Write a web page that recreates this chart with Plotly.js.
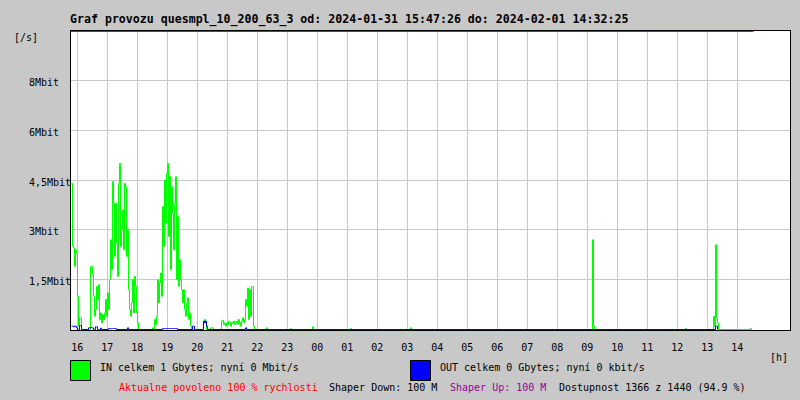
<!DOCTYPE html>
<html><head><meta charset="utf-8">
<script src="https://cdn.plot.ly/plotly-3.0.1.min.js"></script>
<style>html,body{margin:0;padding:0;background:#c8c8c8;}</style>
</head><body><div id="chart" style="width:800px;height:400px;"></div>
<script>
const titleText = 'Graf provozu quesmpl_10_200_63_3 od: 2024-01-31 15:47:26 do: 2024-02-01 14:32:25';
const rangeStart = '2024-01-31 15:47:26';
const rangeEnd = '2024-02-01 15:45:26';
const dataEnd = '2024-02-01 14:32:25';
const sampleMinutes = 2;

const hourLabels = ['16','17','18','19','20','21','22','23','00','01','02','03','04','05','06','07','08','09','10','11','12','13','14'];
const yTickValues = [1.5, 3, 4.5, 6, 7.5];
const yTickLabels = ['1,5Mbit', '3Mbit', '4,5Mbit', '6Mbit', '8Mbit'];

// IN traffic (Mbit/s), segments of 2-minute samples
const inSegStarts = [
  '2024-01-31 15:48:26', '2024-01-31 18:26:26', '2024-01-31 20:12:26',
  '2024-01-31 22:18:26', '2024-01-31 23:06:26', '2024-01-31 23:50:26',
  '2024-02-01 01:06:26', '2024-02-01 03:06:26', '2024-02-01 09:10:26',
  '2024-02-01 12:16:26', '2024-02-01 13:12:26', '2024-02-01 14:26:26'
];
const inSeg1 = [4.4, 2.5, 2.45, 1.9, 2.4, 2.3, 1.0, 0.1, 0.35, 0.35,
  0, 0, 0, 0, 0, 0, 0, 0, 0,
  1.9, 1.9, 1.65, 1.0, 0.4, 0.6, 1.3, 0.9, 1.35, 0.3,
  0.5, 0.2, 0.45, 0.3, 0.5, 0.9, 0.4, 1.1, 0.6, 1.5,
  2.7, 1.8, 4.45, 3.8, 2.2, 3.8, 2.6, 1.6, 4.4, 5.0,
  2.5, 3.0, 3.6, 2.4, 4.4, 4.3, 2.2, 3.0, 1.2, 0.6,
  0.4, 0.8, 1.5, 0.5, 1.6, 1.3, 0.5, 0.2, 0];
const inSeg2 = [0, 0, 0.05, 0, 0.3, 0.15, 0.4, 1.5, 0.8, 1.4,
  1.7, 1.0, 3.7, 2.5, 4.5, 3.2, 4.7, 5.0, 2.8, 4.6,
  1.8, 4.3, 3.5, 2.4, 3.8, 4.6, 1.5, 3.4, 1.3, 2.1,
  1.5, 1.2, 0.8, 1.2, 0.6, 0.4, 0.8, 0.95, 0.3, 0.5,
  0.1, 0];
const inSeg3 = [0.25, 0.3, 0.25, 0, 0, 0, 0, 0.05, 0.05, 0.05,
  0, 0, 0, 0, 0, 0, 0, 0, 0.25, 0.28,
  0.15, 0.2, 0.1, 0.2, 0.15, 0.25, 0.2, 0.1, 0.22, 0.18,
  0.25, 0.15, 0.2, 0.25, 0.15, 0.3, 0.2, 0.1, 0.25, 0.35,
  0.2, 0.3, 0.9, 0.7, 1.25, 0.3, 1.2, 0.4, 1.3, 1.3,
  0.1, 0];
const inSegValues = [inSeg1, inSeg2, inSeg3,
  [0.05, 0], [0.03, 0], [0.08, 0], [0.03, 0], [0.05, 0],
  [2.7, 0.1, 0], [0.03, 0], [0.4, 0.1, 2.55, 0.35, 0.2, 0], [0.03, 0]];

// OUT traffic (Mbit/s)
const outSegStarts = [
  '2024-01-31 15:48:26', '2024-01-31 16:22:26', '2024-01-31 17:02:26',
  '2024-01-31 17:40:26', '2024-01-31 18:50:26', '2024-01-31 19:50:26',
  '2024-01-31 20:12:26', '2024-01-31 21:36:26', '2024-02-01 13:16:26'
];
const outSegValues = [
  [0.1, 0.1, 0.08, 0.1, 0.1, 0.05, 0, 0, 0.12, 0.12, 0],
  [0.05, 0.05, 0.06, 0.05, 0.05, 0, 0, 0.08, 0.08, 0, 0, 0, 0.04, 0],
  [0.03, 0.03, 0.03, 0.03, 0.03, 0.03, 0.03, 0.03, 0],
  [0.05, 0],
  [0.03, 0.03, 0.03, 0.03, 0.03, 0.03, 0.03, 0.03, 0.03, 0.03, 0.03, 0.03, 0.03, 0.03, 0.03, 0],
  [0.1, 0.1, 0],
  [0.25, 0.2, 0.25, 0.1, 0],
  [0.05, 0],
  [0.1, 0.1, 0]
];

// allowed speed (%)
const allowedTimes = [rangeStart, dataEnd];
const allowedPct = [100, 100];

const legendIn = 'IN celkem 1 Gbytes; nyní 0 Mbit/s';
const legendOut = 'OUT celkem 0 Gbytes; nyní 0 kbit/s';
const footerTexts = ['Aktualne povoleno 100 % rychlosti', 'Shaper Down: 100 M', 'Shaper Up: 100 M', 'Dostupnost 1366 z 1440 (94.9 %)'];
const footerColors = ['#ff0000', '#000000', '#990099', '#000000'];

function toMs(s) {
  const [d, t] = s.split(' ');
  const [Y, M, D] = d.split('-').map(Number);
  const [h, m, sec] = t.split(':').map(Number);
  return Date.UTC(Y, M - 1, D, h, m, sec || 0);
}
function expand(starts, segs) {
  const xs = [], ys = [];
  starts.forEach((s, k) => {
    const t0 = toMs(s);
    segs[k].forEach((v, i) => { xs.push(t0 + i * sampleMinutes * 60000); ys.push(v); });
  });
  return {xs, ys};
}
const inData = expand(inSegStarts, inSegValues);
const outData = expand(outSegStarts, outSegValues);
const tickVals = hourLabels.map(h => toMs((Number(h) >= 16 ? '2024-01-31 ' : '2024-02-01 ') + h + ':00:00'));

const L = 71, R = 10, T = 31, B = 70, W = 800 - L - R, H = 400 - T - B;
const px = x => (x - L) / W;
const py = y => (400 - B - y) / H;

const traces = [
  {x: inData.xs, y: inData.ys, type: 'scatter', mode: 'lines', line: {color: '#00ff00', width: 1, shape: 'hv'}, hoverinfo: 'skip'},
  {x: outData.xs, y: outData.ys, type: 'scatter', mode: 'lines', line: {color: '#0000ff', width: 1, shape: 'hv'}, hoverinfo: 'skip'},
  {x: allowedTimes.map(toMs), y: allowedPct, yaxis: 'y2', type: 'scatter', mode: 'lines', line: {color: '#ff0000', width: 1}, hoverinfo: 'skip'}
];

const font = 'DejaVu Sans Mono';
const ann = (text, x, y, color, extra) => Object.assign({
  text, x: px(x), y: py(y), xref: 'paper', yref: 'paper', xanchor: 'left', yanchor: 'middle',
  showarrow: false, borderpad: 0, borderwidth: 0, font: {family: font, size: 10, color: color || '#000'}
}, extra || {});

const annotations = [
  ann('[/s]', 14, 37),
  ann('[h]', 770, 357),
  ann(legendIn, 100, 367),
  ann(legendOut, 440, 367),
  ann(footerTexts[0], 119, 387, footerColors[0]),
  ann(footerTexts[1], 329, 387, footerColors[1]),
  ann(footerTexts[2], 450, 387, footerColors[2]),
  ann(footerTexts[3], 559, 387, footerColors[3])
];
yTickValues.forEach((v, i) => {
  annotations.push({text: yTickLabels[i], x: px(29), y: v, xref: 'paper', yref: 'y', xanchor: 'left', yanchor: 'middle',
    yshift: -2, showarrow: false, borderpad: 0, borderwidth: 0, font: {family: font, size: 10, color: '#000'}});
});

const shapes = [
  {type: 'rect', xref: 'paper', yref: 'paper', x0: px(70.5), x1: px(90.5), y0: py(380.5), y1: py(360.5), fillcolor: '#00ff00', line: {color: '#000', width: 1}},
  {type: 'rect', xref: 'paper', yref: 'paper', x0: px(410.5), x1: px(430.5), y0: py(380.5), y1: py(360.5), fillcolor: '#0000ff', line: {color: '#000', width: 1}}
];

const layout = {
  width: 800, height: 400,
  paper_bgcolor: '#c8c8c8', plot_bgcolor: '#ffffff',
  margin: {l: L, r: R, t: T, b: B, pad: 0},
  showlegend: false,
  font: {family: font, size: 10, color: '#000'},
  title: {text: titleText, x: 70 / 800, xref: 'container', xanchor: 'left', y: 1 - 19 / 400, yref: 'container', yanchor: 'middle',
    font: {family: font, size: 11.6, weight: 700, color: '#000'}},
  xaxis: {type: 'date', range: [toMs(rangeStart), toMs(rangeEnd)], tickvals: tickVals, ticktext: hourLabels,
    showgrid: true, gridcolor: '#c8c8c8', gridwidth: 1, showline: true, linecolor: '#000', linewidth: 1, mirror: true,
    ticks: '', ticklabelstandoff: 8, zeroline: false, tickfont: {family: font, size: 10, color: '#000'}, fixedrange: true},
  yaxis: {range: [-0.015, 8.985], tickvals: yTickValues, showticklabels: false, showgrid: true, gridcolor: '#c8c8c8', gridwidth: 1,
    showline: true, linecolor: '#000', linewidth: 1, mirror: true, ticks: '', zeroline: false, fixedrange: true},
  yaxis2: {overlaying: 'y', range: [0, 100.1675], visible: false, fixedrange: true},
  annotations, shapes
};

Plotly.newPlot('chart', traces, layout, {staticPlot: true, displayModeBar: false});
</script></body></html>
